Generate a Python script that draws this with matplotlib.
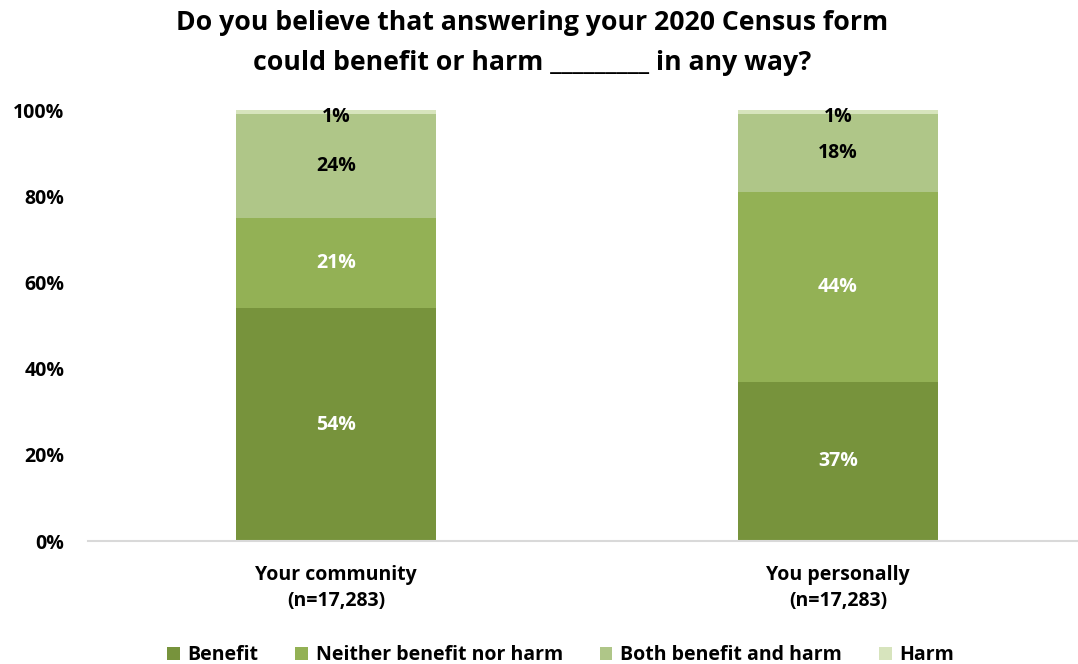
import matplotlib.pyplot as plt
import numpy as np
from matplotlib.patches import Patch

plt.rcParams["font.family"] = ["Open Sans", "DejaVu Sans"]
plt.rcParams["font.weight"] = "bold"

categories = ["Your community\n(n=17,283)", "You personally\n(n=17,283)"]
series_names = ["Benefit", "Neither benefit nor harm", "Both benefit and harm", "Harm"]
benefit = [54, 37]
neither = [21, 44]
both = [24, 18]
harm = [1, 1]
series = [benefit, neither, both, harm]

colors = ["#77933C", "#93B155", "#AFC688", "#D7E4BD"]
label_colors = ["white", "white", "black", "black"]

fig = plt.figure(figsize=(10.78, 6.64), dpi=100)
ax = fig.add_axes([0.0816, 0.1852, 0.9184, 0.6491])

x = np.arange(len(categories))
bottom = np.zeros(len(categories))
for vals, col, lc in zip(series, colors, label_colors):
    vals = np.array(vals, dtype=float)
    ax.bar(x, vals / 100, width=0.398, bottom=bottom / 100, color=col, zorder=2)
    for xi, b, v in zip(x, bottom, vals):
        ax.text(xi, (b + v / 2) / 100 - (0.012 if v < 3 else 0), f"{v:.0f}%",
                ha="center", va="center", color=lc, fontsize=14, fontweight="bold")
    bottom += vals

ax.set_xlim(-0.494, 1.478)
ax.set_ylim(0, 1.0)
ax.set_yticks(np.arange(0, 1.01, 0.2))
ax.set_yticklabels([f"{int(round(t * 100))}%" for t in np.arange(0, 1.01, 0.2)])
ax.set_xticks(x)
ax.set_xticklabels(categories, linespacing=1.45)
ax.tick_params(axis="both", length=0, labelsize=14)
ax.tick_params(axis="y", pad=17)
ax.tick_params(axis="x", pad=17)

for s in ["top", "right", "left"]:
    ax.spines[s].set_visible(False)
ax.spines["bottom"].set_color("#D9D9D9")
ax.spines["bottom"].set_linewidth(1.5)

fig.suptitle("Do you believe that answering your 2020 Census form\ncould benefit or harm _________ in any way?",
             x=0.494, y=0.985, fontsize=19.2, fontweight="bold", linespacing=1.7)

handles = [Patch(facecolor=c, label=n) for c, n in zip(colors, series_names)]
fig.legend(handles=handles, loc="lower center", bbox_to_anchor=(0.52, -0.028), ncol=4,
           frameon=False, fontsize=14, handlelength=0.65, handleheight=0.65,
           handletextpad=0.4, columnspacing=1.9)

fig.savefig("out.png", dpi=100)
